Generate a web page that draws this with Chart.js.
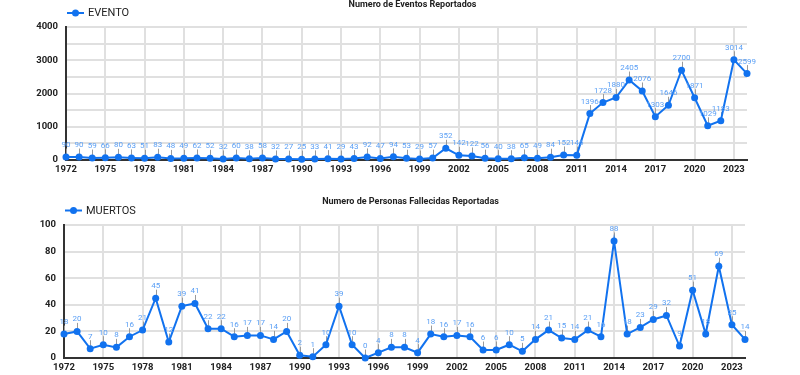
<!DOCTYPE html>
<html>
<head>
<meta charset="utf-8">
<script src="https://cdn.jsdelivr.net/npm/chart.js@4.4.1/dist/chart.umd.min.js"></script>
<style>
  html, body { margin: 0; padding: 0; background: #fff; }
  #wrap { position: relative; width: 800px; height: 375px; }
  .box { position: absolute; left: 0; width: 800px; }
</style>
</head>
<body>
<div id="wrap">
  <div class="box" style="top:0;height:185px"><canvas id="eventos" width="800" height="185"></canvas></div>
  <div class="box" style="top:185px;height:190px"><canvas id="muertos" width="800" height="190"></canvas></div>
</div>
<script>
const years = [
  '1972','1973','1974','1975','1976','1977','1978','1979','1980','1981',
  '1982','1983','1984','1985','1986','1987','1988','1989','1990','1991',
  '1992','1993','1994','1995','1996','1997','1998','1999','2000','2001',
  '2002','2003','2004','2005','2006','2007','2008','2009','2010','2011',
  '2012','2013','2014','2015','2016','2017','2018','2019','2020','2021',
  '2022','2023','2024'
];

const eventos = [
  90, 90, 59, 66, 80, 63, 51, 83, 48, 49,
  62, 52, 32, 60, 38, 58, 32, 27, 25, 33,
  41, 29, 43, 92, 47, 94, 53, 29, 57, 352,
  142, 122, 56, 40, 38, 65, 49, 84, 152, 146,
  1396, 1728, 1880, 2405, 2076, 1303, 1646, 2700, 1871, 1029,
  1183, 3014, 2599
];

const muertos = [
  18, 20, 7, 10, 8, 16, 21, 45, 12, 39,
  41, 22, 22, 16, 17, 17, 14, 20, 2, 1,
  10, 39, 10, 0, 4, 8, 8, 4, 18, 16,
  17, 16, 6, 6, 10, 5, 14, 21, 15, 14,
  21, 16, 88, 18, 23, 29, 32, 9, 51, 18,
  69, 25, 14
];

const LINE = '#1172ef';
const GRID = '#e0e0e0';
const AXIS = '#333';

// title + legend drawn on top of the chart
const header = {
  id: 'header',
  afterDraw(chart, args, opts) {
    const { ctx, chartArea } = chart;
    ctx.save();
    ctx.font = 'bold 9px Roboto';
    ctx.fillStyle = '#222';
    ctx.textAlign = 'center';
    ctx.textBaseline = 'middle';
    ctx.fillText(opts.title, (chartArea.left + chartArea.right) / 2 + 6, opts.titleY);

    const lx = chartArea.left + 1, ly = opts.legendY;
    ctx.strokeStyle = LINE;
    ctx.lineWidth = 2;
    ctx.beginPath(); ctx.moveTo(lx, ly); ctx.lineTo(lx + 17, ly); ctx.stroke();
    ctx.fillStyle = LINE;
    ctx.beginPath(); ctx.arc(lx + 8.5, ly, 3.5, 0, Math.PI * 2); ctx.fill();
    ctx.font = '11px Roboto';
    ctx.fillStyle = '#222';
    ctx.textAlign = 'left';
    ctx.fillText(chart.data.datasets[0].label, lx + 21, ly + 0.5);
    ctx.restore();
  }
};

// value labels with a small leader line
const pointLabels = {
  id: 'pointLabels',
  beforeDatasetsDraw(chart) {
    const { ctx } = chart;
    ctx.save();
    ctx.strokeStyle = '#9a9a9a';
    ctx.lineWidth = 1;
    chart.getDatasetMeta(0).data.forEach(pt => {
      ctx.beginPath();
      ctx.moveTo(Math.round(pt.x) + 0.5, pt.y - 3);
      ctx.lineTo(Math.round(pt.x) + 0.5, pt.y - 8.5);
      ctx.stroke();
    });
    ctx.restore();
  },
  afterDatasetsDraw(chart) {
    const { ctx } = chart;
    const values = chart.data.datasets[0].data;
    ctx.save();
    ctx.font = '8px Roboto';
    ctx.fillStyle = '#5a9ff5';
    ctx.textAlign = 'center';
    ctx.textBaseline = 'middle';
    chart.getDatasetMeta(0).data.forEach((pt, i) => {
      ctx.fillText(String(values[i]), pt.x, pt.y - 12);
    });
    ctx.restore();
  }
};

function makeChart(id, label, values, cfg) {
  return new Chart(document.getElementById(id), {
    type: 'line',
    data: {
      labels: years,
      datasets: [{
        label: label,
        data: values,
        borderColor: LINE,
        backgroundColor: LINE,
        borderWidth: 2,
        pointRadius: 3.5,
        pointBorderWidth: 0,
        pointBackgroundColor: LINE,
        tension: 0,
        clip: false
      }]
    },
    options: {
      responsive: false,
      animation: false,
      layout: { padding: { top: cfg.top, right: cfg.right, bottom: 0, left: 0 } },
      plugins: {
        legend: { display: false },
        tooltip: { enabled: false },
        header: { title: cfg.title, titleY: cfg.titleY, legendY: cfg.legendY }
      },
      scales: {
        x: {
          grid: {
            drawTicks: false,
            lineWidth: 2,
            color: ctx => (ctx.index % 3 === 0 ? GRID : 'rgba(0,0,0,0)')
          },
          border: { color: AXIS, width: 2 },
          ticks: {
            autoSkip: false,
            maxRotation: 0,
            padding: 4,
            color: '#222',
            font: { family: 'Roboto', size: 9.5, weight: 'bold' },
            callback: (v, i) => (i % 3 === 0 ? years[i] : '')
          },
          afterFit: s => { s.height = cfg.xHeight; }
        },
        y: {
          min: 0,
          max: cfg.max,
          grid: { drawTicks: false, color: GRID, lineWidth: 2 },
          border: { color: AXIS, width: 2 },
          ticks: {
            stepSize: cfg.step,
            padding: 8,
            color: '#222',
            font: { family: 'Roboto', size: 9.5, weight: 'bold' },
            callback: v => (v % cfg.labelStep === 0 ? v : '')
          },
          afterFit: s => { s.width = cfg.yWidth; }
        }
      }
    },
    plugins: [header, pointLabels]
  });
}

makeChart('eventos', 'EVENTO', eventos, {
  title: 'Numero de Eventos Reportados', titleY: 5, legendY: 13,
  top: 27, right: 53, xHeight: 25, yWidth: 66,
  max: 4000, step: 500, labelStep: 1000
});

makeChart('muertos', 'MUERTOS', muertos, {
  title: 'Numero de Personas Fallecidas Reportadas', titleY: 17, legendY: 25.5,
  top: 40, right: 55, xHeight: 17, yWidth: 64,
  max: 100, step: 10, labelStep: 20
});
</script>
</body>
</html>
